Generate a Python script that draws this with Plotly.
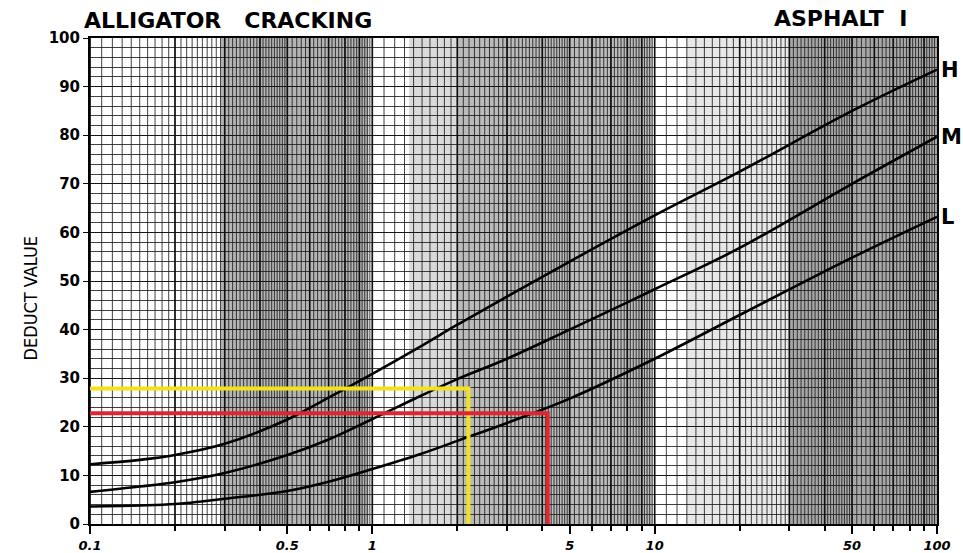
import plotly.graph_objects as go

# ---------------- data ----------------
density = [0.1, 0.15, 0.2, 0.3, 0.5, 0.7, 1, 1.5, 2, 3, 5, 10, 20, 50, 100]
deduct_H = [12.3, 13.2, 14.2, 16.5, 21.5, 26.0, 30.9, 36.7, 41.0, 46.8, 54.0, 63.5, 72.5, 85.0, 93.5]
deduct_M = [6.6, 7.7, 8.6, 10.5, 14.2, 17.4, 21.6, 26.5, 29.8, 34.0, 40.0, 48.3, 56.8, 70.0, 79.7]
deduct_L = [3.6, 3.8, 4.1, 5.2, 6.8, 8.7, 11.3, 14.5, 17.1, 20.8, 25.8, 34.0, 43.0, 54.8, 63.2]

yellow_x = [0.1, 2.19, 2.19]
yellow_y = [27.9, 27.9, 0]
red_x = [0.1, 4.18, 4.18]
red_y = [22.8, 22.8, 0]

x_tick_vals = [0.1, 0.5, 1, 5, 10, 50, 100]
x_tick_text = ["0.1", "0.5", "1", "5", "10", "50", "100"]
y_tick_vals = list(range(0, 101, 10))

# ---------------- figure ----------------
fig = go.Figure()

# scanned-paper shading bands (styling)
bands = [(0.29, 0.97, "rgba(120,120,120,0.55)"),
         (1.35, 2.0, "rgba(150,150,150,0.35)"),
         (2.0, 9.8, "rgba(120,120,120,0.5)"),
         (13, 30, "rgba(160,160,160,0.25)"),
         (30, 100, "rgba(110,110,110,0.6)")]
shapes = []
for a, b, c in bands:
    shapes.append(dict(type="rect", xref="x", yref="y", x0=a, x1=b, y0=0, y1=100,
                       fillcolor=c, line=dict(width=0), layer="below"))

# log graph paper vertical rulings (styling)
gx, gy = [], []
for dec in (0.1, 1, 10):
    v = 1.0
    while v < 10 - 1e-9:
        gx += [v * dec, v * dec, None]
        gy += [0, 100, None]
        v = round(v + (0.1 if v < 5 - 1e-9 else 0.2), 4)
fig.add_trace(go.Scatter(x=gx, y=gy, mode="lines", line=dict(color="rgba(30,30,30,0.85)", width=1),
                         hoverinfo="skip", showlegend=False))
mx, my = [], []
for dec in (0.1, 1, 10):
    for k in range(1, 10):
        mx += [k * dec, k * dec, None]
        my += [0, 100, None]
fig.add_trace(go.Scatter(x=mx, y=my, mode="lines", line=dict(color="#111", width=1.6),
                         hoverinfo="skip", showlegend=False))

for name, vals in (("H", deduct_H), ("M", deduct_M), ("L", deduct_L)):
    fig.add_trace(go.Scatter(x=density, y=vals, mode="lines", name=name,
                             line=dict(color="black", width=2.6, shape="spline", smoothing=1.0),
                             showlegend=False))

fig.add_trace(go.Scatter(x=yellow_x, y=yellow_y, mode="lines", line=dict(color="#f2e21c", width=4),
                         showlegend=False))
fig.add_trace(go.Scatter(x=red_x, y=red_y, mode="lines", line=dict(color="#e0252e", width=4),
                         showlegend=False))

tick_font = dict(family="DejaVu Sans", size=15, color="black", weight="bold")
fig.update_xaxes(type="log", range=[-1, 2], tickvals=x_tick_vals, ticktext=x_tick_text,
                 ticks="outside", ticklen=8, tickwidth=2, tickcolor="black",
                 minor=dict(dtick="D1", ticks="outside", ticklen=5, tickwidth=1.5, tickcolor="black", showgrid=False),
                 showgrid=False, showline=True, linecolor="black", linewidth=2, mirror=True,
                 tickfont=dict(family="DejaVu Sans", size=13, color="black", style="italic", weight="bold"),
                 zeroline=False, automargin=False)
fig.update_yaxes(range=[0, 100], tickvals=y_tick_vals, ticks="outside", ticklen=5, tickcolor="black",
                 showgrid=True, gridcolor="rgba(20,20,20,0.95)", gridwidth=1.3,
                 minor=dict(dtick=2, showgrid=True, gridcolor="rgba(30,30,30,0.85)", gridwidth=1),
                 showline=True, linecolor="black", linewidth=2, mirror=True,
                 tickfont=tick_font, zeroline=False, automargin=False)

annotations = [
    dict(text="ALLIGATOR   CRACKING", xref="paper", yref="paper", x=-0.01, y=1.0, xanchor="left",
         yanchor="bottom", yshift=3, showarrow=False,
         font=dict(family="DejaVu Sans", size=22, color="black", weight="bold")),
    dict(text="ASPHALT  I", xref="paper", yref="paper", x=0.967, y=1.0, xanchor="right",
         yanchor="bottom", yshift=5, showarrow=False,
         font=dict(family="DejaVu Sans", size=22, color="black", weight="bold")),
    dict(text="DEDUCT VALUE", xref="paper", yref="paper", x=-0.085, y=0.465, textangle=-90,
         showarrow=False,
         font=dict(family="Liberation Sans Narrow, DejaVu Sans Condensed, DejaVu Sans", size=18, color="black")),
]
for name, vals in (("H", deduct_H), ("M", deduct_M), ("L", deduct_L)):
    annotations.append(dict(text=name, xref="paper", yref="y", x=1.0, y=vals[-1], xanchor="left",
                            xshift=2, showarrow=False,
                            font=dict(family="DejaVu Sans", size=21, color="black", weight="bold")))

fig.update_layout(width=963, height=553, margin=dict(l=90, r=26, t=38, b=29, autoexpand=False),
                  paper_bgcolor="white", plot_bgcolor="white",
                  shapes=shapes, annotations=annotations, showlegend=False)

fig.write_html("out.html")
